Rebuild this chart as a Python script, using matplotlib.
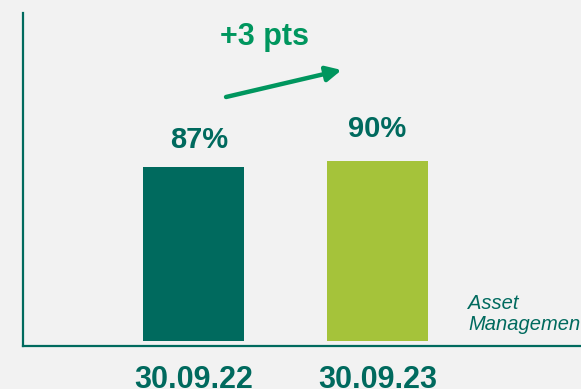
import matplotlib
matplotlib.use("Agg")
import matplotlib.pyplot as plt

# Data
periods = ["30.09.22", "30.09.23"]
shares = [87, 90]
share_labels = ["87%", "90%"]
change_label = "+3 pts"
segment_label = "Asset\nManagement"

# Style
bg = "#F2F2F2"
dark_green = "#006A5E"
bar_colors = ["#006A5E", "#A5C33A"]
accent_green = "#00965E"
font = "Liberation Sans"

W, H, DPI = 581, 389, 100
fig = plt.figure(figsize=(W / DPI, H / DPI), dpi=DPI, facecolor=bg)

# axes frame: left spine at x=22.5 px, bottom spine at y=346 px, top at y=13 px
left_px, bottom_px, top_px = 22.5, 346, 13
ax = fig.add_axes([left_px / W, (H - bottom_px) / H,
                   (W - left_px) / W, (bottom_px - top_px) / H])
ax.set_facecolor(bg)

x = list(range(len(periods)))
ax.bar(x, shares, width=0.55, color=bar_colors, zorder=2)

ax.set_xlim(-0.929, 2.106)
ax.set_ylim(-2.5, 164)

for side in ("top", "right"):
    ax.spines[side].set_visible(False)
for side in ("left", "bottom"):
    ax.spines[side].set_color(dark_green)
    ax.spines[side].set_linewidth(1.6)
ax.set_yticks([])
ax.set_xticks(x)
ax.set_xticklabels(periods, fontsize=22, fontweight="bold", color=dark_green,
                   family=font)
ax.tick_params(axis="x", length=0, pad=14)

# value labels above bars
lift_pts = [13.5, 17.5]
shift_pts = [4, 0]
for xi, v, lab, dy, dx in zip(x, shares, share_labels, lift_pts, shift_pts):
    ax.annotate(lab, (xi, v), xytext=(dx, dy), textcoords="offset points",
                ha="center", va="baseline", fontsize=21, fontweight="bold",
                color=dark_green, family=font)

# change indicator
ax.annotate("", xy=(0.805, 135.5), xytext=(0.177, 122),
            arrowprops=dict(arrowstyle="-|>,head_length=0.9,head_width=0.45",
                            color=accent_green, lw=3.2, shrinkA=0, shrinkB=0))
fig.text(264 / W, (H - 45) / H, change_label, ha="center", va="baseline",
         fontsize=22, fontweight="bold", color=accent_green, family=font)

# segment caption
fig.text(468 / W, (H - 330) / H, segment_label, ha="left", va="baseline",
         fontsize=14.5, fontstyle="italic", color=dark_green, family=font,
         linespacing=1.15)

fig.savefig("out.png", dpi=DPI, facecolor=bg)
